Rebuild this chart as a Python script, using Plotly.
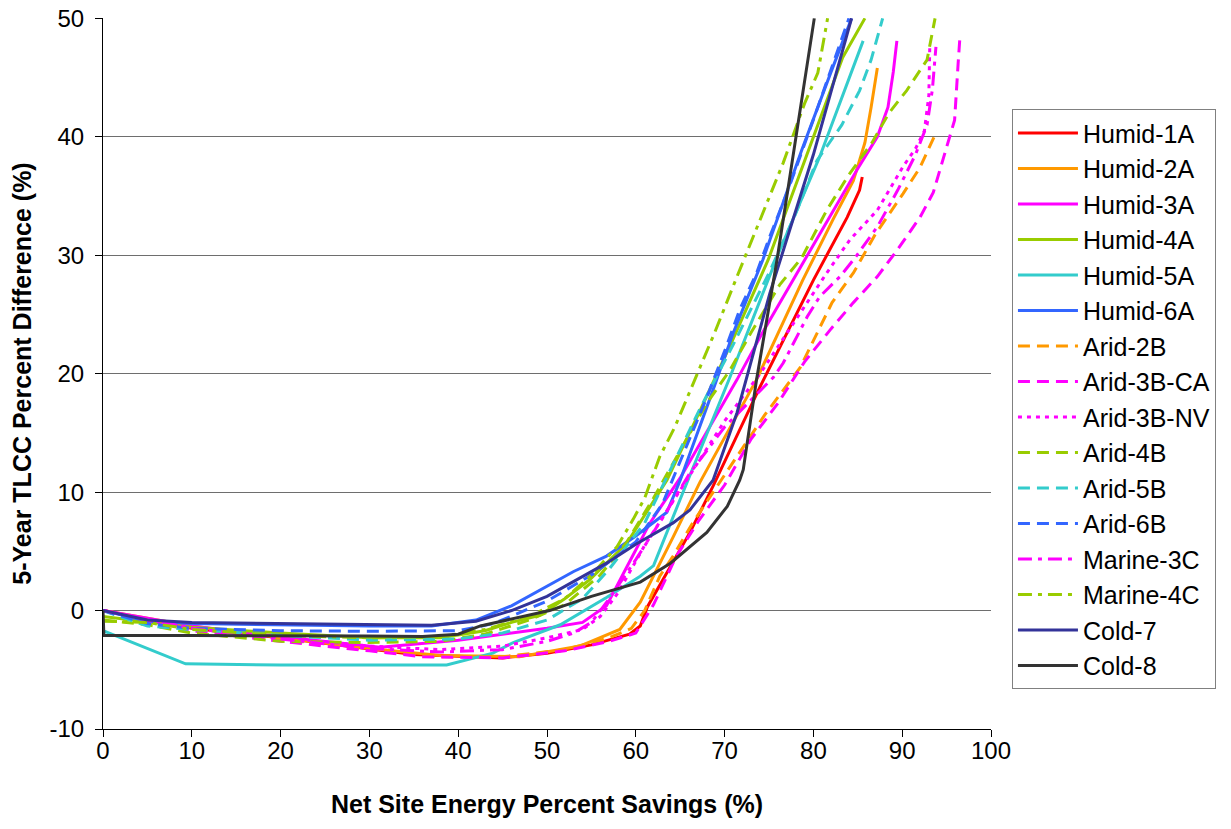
import plotly.graph_objects as go

# ---- data ----
series_names = ["Humid-1A", "Humid-2A", "Humid-3A", "Humid-4A", "Humid-5A", "Humid-6A",
                "Arid-2B", "Arid-3B-CA", "Arid-3B-NV", "Arid-4B", "Arid-5B", "Arid-6B",
                "Marine-3C", "Marine-4C", "Cold-7", "Cold-8"]

humid_1a_x = [0, 10, 20, 30, 35, 45, 50, 55, 59.3, 60.5, 61.3, 63.5, 66.1, 68.7, 74, 80, 83.8, 85.2, 85.5]
humid_1a_y = [0, -1.5, -2.3, -3.2, -3.7, -4.0, -3.6, -2.9, -2.0, -1.3, 0.3, 3.2, 6.6, 10.5, 18.9, 27.9, 33.2, 35.5, 36.6]

humid_2a_x = [0, 10, 20, 30, 38, 46.9, 53.7, 57.4, 58.2, 60.5, 64.2, 67.2, 73.6, 78.8, 82.2, 84.5, 85.8, 86.5, 87.2]
humid_2a_y = [0, -1.3, -2.3, -3.2, -3.8, -3.9, -3.0, -1.8, -1.6, 0.7, 6.2, 10.8, 19.5, 27.9, 33.0, 36.3, 39.5, 42.5, 45.8]

humid_3a_x = [0, 10, 20, 31.2, 40, 50, 54, 56.7, 59, 61.6, 65, 71.4, 74.3, 80.7, 84.9, 87.2, 88.4, 89.0, 89.4]
humid_3a_y = [0, -1.3, -2.2, -3.1, -2.5, -1.5, -1.0, 0.4, 3.7, 7.4, 11.2, 19.5, 23.5, 31.8, 37.2, 40.0, 42.5, 45.5, 48.1]

humid_4a_x = [0, 10, 20, 30, 38, 43, 46, 49.2, 52, 54.8, 59, 61.6, 63.5, 67, 71, 74.9, 79, 83.3, 85.8]
humid_4a_y = [-0.5, -1.4, -1.9, -2.3, -2.3, -1.7, -1.0, -0.4, 1.0, 2.6, 5.7, 8.8, 11.0, 16.5, 23.0, 29.6, 38.0, 46.7, 50.0]

humid_5a_x = [0, 9.3, 20, 30, 38.7, 43.9, 46.2, 51.5, 56.7, 60.5, 62, 65, 70.6, 76.2, 80.7, 85.6]
humid_5a_y = [-1.7, -4.5, -4.6, -4.6, -4.6, -3.6, -2.7, -1.2, 1.1, 2.9, 3.8, 9.4, 19.7, 30.4, 38.3, 48.1]

humid_6a_x = [0, 5, 10, 20, 30, 37, 42, 46, 49.2, 53, 56.7, 60, 63.5, 65, 68.4, 71, 74.3, 78.7, 82, 84.3]
humid_6a_y = [0, -0.9, -1.1, -1.2, -1.3, -1.3, -0.8, 0.4, 1.7, 3.3, 4.6, 6.3, 8.3, 11.0, 18.0, 23.5, 29.6, 38.9, 45.5, 50.0]

arid_2b_x = [0, 5, 10, 20, 30, 38, 45, 52, 57, 59.5, 61, 62.7, 64.2, 66.4, 68.9, 71.4, 74.5, 78.5, 82.1, 84.5, 87, 90.1, 92, 93.9]
arid_2b_y = [0, -0.8, -1.5, -2.4, -3.3, -3.9, -3.9, -3.3, -2.3, -1.5, 0, 2.9, 4.6, 7.4, 10.2, 13.0, 16.5, 20.5, 26.0, 28.5, 31.8, 35.2, 37.4, 40.5]

arid_3bca_x = [0, 5, 10, 20, 30, 36, 45, 52, 57, 60, 62, 64.5, 67, 70, 73, 76, 79, 82, 84.5, 87.2, 89.4, 92, 93.5, 94.6, 95.9, 96.3, 96.5]
arid_3bca_y = [0, -1.0, -1.7, -2.6, -3.4, -3.9, -4.0, -3.4, -2.6, -1.9, 0.5, 4.5, 7.5, 10.6, 14.5, 17.5, 21.0, 23.8, 26.0, 28.2, 30.4, 33.2, 35.3, 38.0, 41.4, 46.2, 48.4]

arid_3bnv_x = [0, 10, 20, 30, 38, 45, 50, 54, 56, 58, 61, 64, 67, 70, 74, 77.5, 81.5, 84.1, 87.2, 90.1, 91.5, 92.5, 93, 93.1]
arid_3bnv_y = [0, -1.5, -2.3, -3.0, -3.3, -3.0, -2.3, -1.6, -0.5, 1.5, 5.5, 9.0, 12.5, 16.0, 20.0, 24.0, 28.5, 31.3, 33.8, 37.5, 39.0, 40.5, 43.5, 47.5]

arid_4b_x = [0, 5, 10, 20, 30, 38, 43, 48, 52, 56, 59, 62, 65, 68, 70.6, 73, 76.2, 78.7, 81.5, 84, 86.6, 88.5, 90.5, 92.8, 93.7]
arid_4b_y = [-0.8, -1.2, -1.9, -2.6, -2.7, -2.6, -2.0, -0.8, 0.5, 3.0, 5.8, 9.5, 13.5, 17.5, 20.3, 23.5, 27.5, 29.8, 33.8, 36.8, 39.5, 42.0, 43.9, 46.5, 50.0]

arid_5b_x = [0, 5, 10, 20, 30, 40, 45, 50, 54, 57, 61, 64, 67.2, 71, 75, 78, 80.4, 83.2, 85.2, 86.5, 87.8]
arid_5b_y = [0, -1.3, -1.6, -2.1, -2.5, -2.4, -1.9, -0.8, 1.0, 3.5, 7.4, 12.0, 17.0, 22.5, 28.5, 33.5, 38.0, 41.0, 43.9, 46.5, 50.0]

arid_6b_x = [0, 5, 10, 20, 30, 40, 44, 50, 55, 60, 63, 65.5, 68, 70.2, 71.7, 73.6, 75.1, 77, 80.5, 84]
arid_6b_y = [0, -1.1, -1.5, -1.7, -1.75, -1.7, -1.1, 0.8, 3.0, 5.8, 9.0, 13.5, 18.0, 22.3, 25.4, 28.5, 31.6, 35.2, 42.5, 50.0]

marine_3c_x = [0, 10, 20, 30, 38, 45, 50, 53, 55, 57, 60, 63, 66, 70, 75.5, 76.6, 79.3, 80.7, 83, 84.7, 87.2, 89.5, 91.5, 92.8, 93.4, 93.8]
marine_3c_y = [0, -1.5, -2.4, -3.2, -3.5, -3.3, -2.6, -1.9, -1.0, 1.0, 4.3, 7.8, 11.5, 15.5, 19.7, 20.9, 24.8, 26.5, 28.2, 29.8, 32.4, 35.5, 38.5, 41.0, 44.0, 47.6]

marine_4c_x = [0, 5, 10, 20, 30, 38, 43, 48, 52, 55, 57.9, 59.7, 61, 62.7, 64.4, 66.3, 68.9, 71.4, 74, 76.6, 79, 80.5, 81.6]
marine_4c_y = [-0.9, -1.0, -1.6, -2.1, -2.3, -2.2, -1.6, -0.5, 1.0, 3.0, 5.4, 7.7, 9.5, 13.0, 15.5, 18.9, 23.5, 28.2, 33.0, 37.8, 42.8, 45.4, 50.0]

cold_7_x = [0, 5, 10, 20, 30, 37, 42, 46, 50, 56.7, 60, 64.2, 66.1, 68.7, 71.4, 75.1, 80, 84.3]
cold_7_y = [0, -0.8, -1.0, -1.1, -1.2, -1.25, -0.9, 0.0, 1.2, 4.0, 5.6, 7.4, 8.5, 11.0, 16.7, 26.8, 38.5, 50.0]

cold_8_x = [0, 0.1, 10, 20, 30, 36, 40, 42.5, 46, 50.3, 55, 60.5, 63.9, 68, 70.3, 71.7, 72.1, 73.2, 73.6, 75.9, 80.1]
cold_8_y = [0, -2.1, -2.1, -2.1, -2.15, -2.2, -2.0, -1.3, -0.7, 0.0, 1.2, 2.4, 4.0, 6.6, 8.8, 11.0, 11.9, 17.2, 19.5, 29.6, 50.0]

x_tick_vals = [0, 10, 20, 30, 40, 50, 60, 70, 80, 90, 100]
x_tick_text = ["0", "10", "20", "30", "40", "50", "60", "70", "80", "90", "100"]
y_tick_vals = [-10, 0, 10, 20, 30, 40, 50]
y_tick_text = ["-10", "0", "10", "20", "30", "40", "50"]

# ---- styles ----
RED, ORANGE, MAGENTA, GREEN = "#FF0000", "#FF9900", "#FF00FF", "#99CC00"
CYAN, BLUE, NAVY, DARK = "#33CCCC", "#3366FF", "#333399", "#333333"
LONG = "12px,7px"
DOT = "4px,5px"
DASHDOT = "14px,6px,4px,6px"

data = [
    (humid_1a_x, humid_1a_y, RED, "solid"),
    (humid_2a_x, humid_2a_y, ORANGE, "solid"),
    (humid_3a_x, humid_3a_y, MAGENTA, "solid"),
    (humid_4a_x, humid_4a_y, GREEN, "solid"),
    (humid_5a_x, humid_5a_y, CYAN, "solid"),
    (humid_6a_x, humid_6a_y, BLUE, "solid"),
    (arid_2b_x, arid_2b_y, ORANGE, LONG),
    (arid_3bca_x, arid_3bca_y, MAGENTA, LONG),
    (arid_3bnv_x, arid_3bnv_y, MAGENTA, DOT),
    (arid_4b_x, arid_4b_y, GREEN, LONG),
    (arid_5b_x, arid_5b_y, CYAN, LONG),
    (arid_6b_x, arid_6b_y, BLUE, LONG),
    (marine_3c_x, marine_3c_y, MAGENTA, DASHDOT),
    (marine_4c_x, marine_4c_y, GREEN, DASHDOT),
    (cold_7_x, cold_7_y, NAVY, "solid"),
    (cold_8_x, cold_8_y, DARK, "solid"),
]

fig = go.Figure()
for name, (xs, ys, color, dash) in zip(series_names, data):
    fig.add_trace(go.Scatter(
        x=xs, y=ys, mode="lines", name=name, legendgroup=name,
        line=dict(color=color, width=3, dash=dash),
    ))

FONT = "Arial, Liberation Sans, sans-serif"
fig.update_layout(
    width=1231, height=829,
    margin=dict(l=103, r=240, t=18, b=100),
    paper_bgcolor="white", plot_bgcolor="white",
    font=dict(family=FONT, size=24, color="black"),
    showlegend=True,
    legend=dict(
        x=1.0236, y=0.8716, xanchor="left", yanchor="top",
        bordercolor="#808080", borderwidth=1, bgcolor="white",
        font=dict(family=FONT, size=25, color="black"),
        traceorder="grouped", tracegroupgap=0,
        itemwidth=60,
    ),
    xaxis=dict(
        range=[0, 100], tickvals=x_tick_vals, ticktext=x_tick_text,
        showgrid=False, zeroline=False, automargin=False,
        showline=True, linecolor="black", linewidth=1,
        ticks="outside", ticklen=7, tickcolor="black",
        ticklabelstandoff=-7,
        tickfont=dict(family=FONT, size=24),
        title=dict(text="<b>Net Site Energy Percent Savings (%)</b>",
                   font=dict(family=FONT, size=25), standoff=32),
    ),
    yaxis=dict(
        range=[-10, 50.03], tickvals=y_tick_vals, ticktext=y_tick_text,
        showgrid=True, gridcolor="#6e6e6e", gridwidth=1, zeroline=False,
        automargin=False, ticklabeloverflow="allow",
        showline=True, linecolor="black", linewidth=1,
        ticks="outside", ticklen=7, tickcolor="black",
        ticklabelstandoff=6,
        tickfont=dict(family=FONT, size=24),
        title=dict(text="<b>5-Year TLCC Percent Difference (%)</b>",
                   font=dict(family=FONT, size=25), standoff=10),
    ),
)

fig.write_html("out.html", config={"displayModeBar": False},
               post_script="document.body.style.margin='0';")
